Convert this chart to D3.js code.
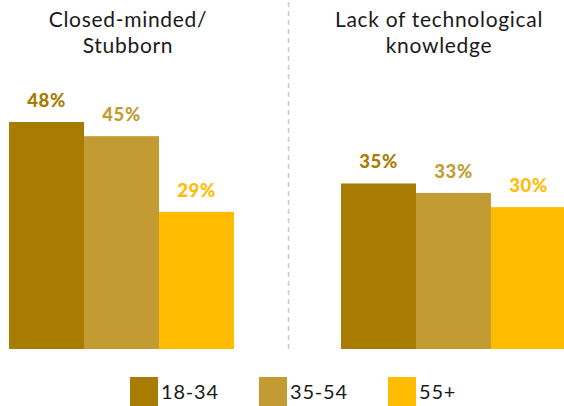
<!DOCTYPE html>
<html>
<head>
<meta charset="utf-8">
<script src="https://cdn.jsdelivr.net/npm/d3@7"></script>
<style>
  html, body { margin: 0; padding: 0; background: #fff; }
  svg { display: block; font-family: Lato, "Open Sans", sans-serif; }
</style>
</head>
<body>
<svg id="chart" width="564" height="406"></svg>
<script>
// Reasons, age groups and shares (%)
const panels = [["Closed-minded/", "Stubborn"], ["Lack of technological", "knowledge"]];
const ageGroups = ["18-34", "35-54", "55+"];
const closedMinded = [48, 45, 29];
const lackTech = [35, 33, 30];
const colors = ["#A87C00", "#C29C33", "#FFBC00"];

const seriesByPanel = [closedMinded, lackTech];

const svg = d3.select("#chart");
const baseY = 349;
const y = d3.scaleLinear().domain([0, 48]).range([baseY, 122]);

const panelRanges = [[9, 234], [341, 566]];
const titleCenters = [128, 439];

panels.forEach((title, p) => {
  const x = d3.scaleBand().domain(ageGroups).range(panelRanges[p]).padding(0);
  const g = svg.append("g");
  const vals = seriesByPanel[p];

  g.selectAll("rect")
    .data(ageGroups)
    .join("rect")
    .attr("x", d => x(d))
    .attr("y", (d, i) => y(vals[i]))
    .attr("width", x.bandwidth())
    .attr("height", (d, i) => baseY - y(vals[i]))
    .attr("fill", (d, i) => colors[i]);

  g.selectAll("text.val")
    .data(ageGroups)
    .join("text")
    .attr("class", "val")
    .attr("x", d => x(d) + x.bandwidth() / 2)
    .attr("y", (d, i) => y(vals[i]) - 15)
    .attr("text-anchor", "middle")
    .attr("font-size", 18.5)
    .attr("font-weight", 900)
    .attr("letter-spacing", 0.6)
    .attr("fill", (d, i) => colors[i])
    .text((d, i) => vals[i] + "%");

  const t = g.append("text")
    .attr("text-anchor", "middle")
    .attr("font-size", 21)
    .attr("letter-spacing", 0.7)
    .attr("fill", "#1a1a1a");
  title.forEach((line, k) => {
    t.append("tspan")
      .attr("x", titleCenters[p])
      .attr("y", 27 + k * 26)
      .text(line);
  });
});

// Divider between the two panels
svg.append("line")
  .attr("x1", 288.5).attr("x2", 288.5)
  .attr("y1", 2).attr("y2", 350)
  .attr("stroke", "#c8c8c8")
  .attr("stroke-width", 1.5)
  .attr("stroke-dasharray", "5,4");

// Legend
const legendX = [130, 259, 388];
const legend = svg.append("g");
ageGroups.forEach((a, i) => {
  legend.append("rect")
    .attr("x", legendX[i]).attr("y", 377)
    .attr("width", 28).attr("height", 29)
    .attr("fill", colors[i]);
  legend.append("text")
    .attr("x", legendX[i] + 31).attr("y", 399)
    .attr("font-size", 20)
    .attr("letter-spacing", 0.8)
    .attr("fill", "#1a1a1a")
    .text(a);
});
</script>
</body>
</html>
